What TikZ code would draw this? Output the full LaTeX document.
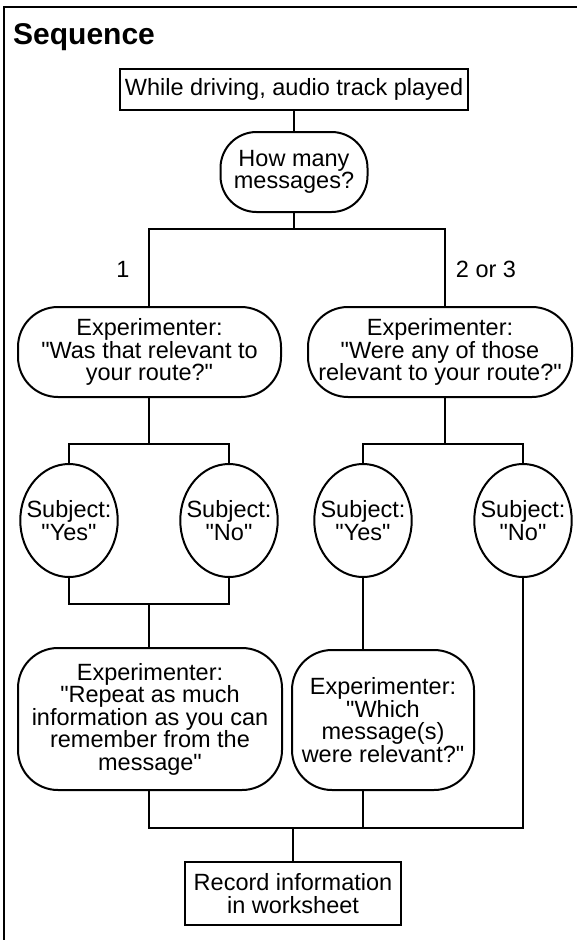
\documentclass[tikz,border=0pt]{standalone}
\usepackage{fontspec}
\setmainfont{Liberation Sans}[Ligatures=TeXOff]
\usetikzlibrary{shapes.geometric}
\begin{document}
\begin{tikzpicture}[x=1pt,y=-1pt,
  every node/.style={font=\fontsize{23.5}{22.5}\selectfont, align=center, inner sep=0pt},
  ln/.style={line width=2pt},
  boxnode/.style={draw, line width=2pt, rectangle},
  rbox/.style={draw, line width=2pt, rectangle, rounded corners=40pt},
  subj/.style={draw, line width=2pt, ellipse, inner xsep=-8pt, inner ysep=0pt, minimum width=97pt, minimum height=113pt},
]
\useasboundingbox (0,0) rectangle (577,940);
\draw[ln] (4,945) -- (4,7) -- (580,7);

\node[anchor=base west, font=\fontsize{30}{30}\selectfont\bfseries] (title) at (13,44) {Sequence};

\node[boxnode, minimum width=348pt, minimum height=41pt] (start) at (294,89.5) {While driving, audio track played};
\node[rbox, rounded corners=36pt, minimum width=147pt, minimum height=80pt] (many) at (294,172) {How many\\messages?};

\coordinate (sL) at (149,229);
\coordinate (sR) at (445,229);

\node (one) at (123,269) {1};
\node (two) at (486,269) {2 or 3};

\node[rbox, minimum width=263pt, minimum height=90pt] (q1) at (149.5,352) {Experimenter:\\"Was that relevant to\\your route?"};
\node[rbox, minimum width=264pt, minimum height=90pt] (q2) at (440,352) {Experimenter:\\"Were any of those\\relevant to your route?"};

\node[subj] (y1) at (69,520.5) {Subject:\\"Yes"};
\node[subj] (n1) at (229,520.5) {Subject:\\"No"};
\node[subj] (y2) at (363,520.5) {Subject:\\"Yes"};
\node[subj] (n2) at (523,520.5) {Subject:\\"No"};

\coordinate (bL) at (149,444);
\coordinate (bR) at (445,444);
\coordinate (cL) at (149,604);

\node[rbox, minimum width=264pt, minimum height=142pt] (r1) at (150,719) {Experimenter:\\"Repeat as much\\information as you can\\remember from the\\message"};
\node[rbox, minimum width=182pt, minimum height=140pt] (r2) at (383,720) {Experimenter:\\"Which\\message(s)\\were relevant?"};

\coordinate (jL) at (149,828);
\coordinate (jR) at (523,828);
\coordinate (jM) at (293,828);

\node[boxnode, minimum width=216pt, minimum height=63pt] (rec) at (293,893.5) {Record information\\in worksheet};

% connectors
\draw[ln] (start) -- (many);
\draw[ln] (many.south) -- (many.south |- sL);
\draw[ln] (sL |- q1.north) -- (sL) -- (sR) -- (sR |- q2.north);
\draw[ln] (bL |- q1.south) -- (bL);
\draw[ln] (bR |- q2.south) -- (bR);
\draw[ln] (y1.north) |- (bL) -| (n1.north);
\draw[ln] (y2.north) |- (bR) -| (n2.north);
\draw[ln] (y1.south) |- (cL) -| (n1.south);
\draw[ln] (cL) -- (cL |- r1.north);
\draw[ln] (y2.south) -- (y2.south |- r2.north);
\draw[ln] (jL |- r1.south) -- (jL) -- (jR) -- (n2.south);
\draw[ln] (y2.south |- r2.south) -- (y2.south |- jL);
\draw[ln] (jM) -- (rec.north);
\end{tikzpicture}
\end{document}
